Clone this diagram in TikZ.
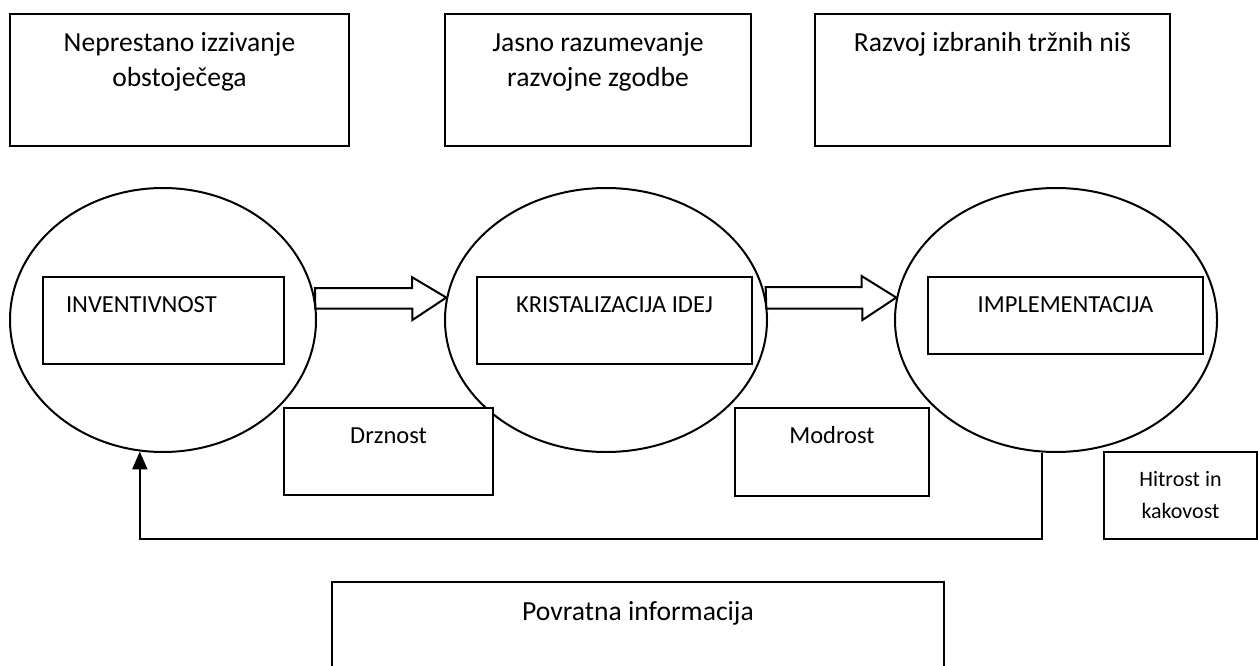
\documentclass[tikz,border=0pt]{standalone}
\usepackage{fontspec}
\setmainfont{Carlito}
\usetikzlibrary{shapes.geometric,arrows.meta}

\begin{document}
\begin{tikzpicture}[
    x=1pt, y=-1pt,
    phase/.style={
        draw,
        ellipse,
        line width=2pt,
        inner sep=0pt,
        minimum height=264pt
    },
    boxnode/.style={
        draw,
        line width=2.4pt,
        fill=white,
        outer sep=0pt
    },
    lbl/.style={
        inner sep=0pt,
        outer sep=0pt,
        align=center,
        execute at begin node=\strut
    },
    toplbl/.style={
        lbl,
        anchor=north,
        yshift=-13.5pt,
        font=\fontsize{27.6}{35}\selectfont
    },
    capslbl/.style={
        lbl,
        anchor=north,
        yshift=-14pt,
        font=\fontsize{24.5}{30}\selectfont
    },
    smalllbl/.style={
        lbl,
        anchor=north,
        yshift=-11.6pt,
        font=\fontsize{22}{32}\selectfont
    },
    blockarrow/.style={
        draw,
        line width=2pt,
        fill=white,
        line join=miter
    },
    feedback/.style={
        line width=2.2pt,
        -{Triangle[length=18pt,width=15pt]}
    }
]

\useasboundingbox (0,0) rectangle (1258,666);

\node[phase, minimum width=306pt] (inventivnost) at (163,320) {};
\node[phase, minimum width=322pt] (kristalizacija) at (606,320) {};
\node[phase, minimum width=322pt] (implementacija) at (1056,320) {};

\node[boxnode, minimum width=339pt, minimum height=132pt,
    label={[toplbl]north:{\strut Neprestano izzivanje\\obstoječega}}] (izzivanje) at (179.5,80) {};
\node[boxnode, minimum width=306pt, minimum height=132pt,
    label={[toplbl]north:{\strut Jasno razumevanje\\razvojne zgodbe}}] (razumevanje) at (598,80) {};
\node[boxnode, minimum width=355pt, minimum height=132pt,
    label={[toplbl]north:{Razvoj izbranih tržnih niš}}] (nise) at (992.5,80) {};

\node[boxnode, minimum width=241pt, minimum height=87pt,
    label={[capslbl, anchor=north west, xshift=23pt]north west:INVENTIVNOST}] (inventivnostbox) at (163.5,320.5) {};
\node[boxnode, minimum width=275pt, minimum height=87pt,
    label={[capslbl]north:KRISTALIZACIJA IDEJ}] (kristalizacijabox) at (614.5,320.5) {};
\node[boxnode, minimum width=275pt, minimum height=77pt,
    label={[capslbl]north:IMPLEMENTACIJA}] (implementacijabox) at (1065.5,315.5) {};

\node[boxnode, minimum width=209pt, minimum height=87pt,
    label={[capslbl]north:Drznost}] (drznost) at (388.5,451.5) {};
\node[boxnode, minimum width=194pt, minimum height=88pt,
    label={[capslbl]north:Modrost}] (modrost) at (832,452) {};
\node[boxnode, minimum width=153pt, minimum height=87pt,
    label={[smalllbl]north:{\strut Hitrost in\\kakovost}}] (hitrost) at (1180.5,495.5) {};
\node[boxnode, minimum width=612pt, minimum height=140pt,
    label={[toplbl]north:{Povratna informacija}}] (povratna) at (638,652) {};

\draw[blockarrow] (inventivnost.8) ++(0,-10.5) -- ++(97,0) -- ++(0,-11) -- (kristalizacija.172)
    -- ++(-34,22.5) -- ++(0,-11.5) -- ++(-97,0) -- cycle;
\draw[blockarrow] (kristalizacija.8) ++(0,-10.5) -- ++(96,0) -- ++(0,-11) -- (implementacija.172)
    -- ++(-34,22.5) -- ++(0,-11.5) -- ++(-96,0) -- cycle;

\draw[feedback] (implementacija.264) -- (implementacija.264 |- hitrost.south) -| (inventivnost.260);

\end{tikzpicture}
\end{document}
